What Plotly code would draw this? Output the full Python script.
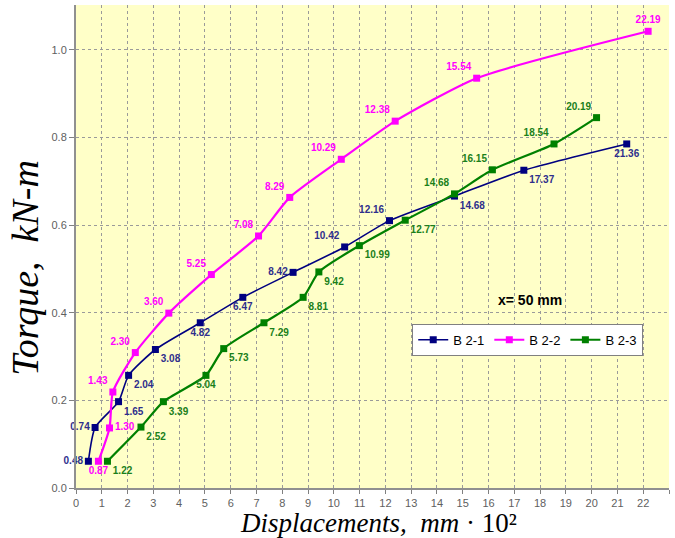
import plotly.graph_objects as go

# Data (displacement in mm*10^2, torque in kN·m)
b21_x = [0.48, 0.74, 1.65, 2.04, 3.08, 4.82, 6.47, 8.42, 10.42, 12.16, 14.68, 17.37, 21.36]
b21_y = [0.061, 0.138, 0.197, 0.257, 0.316, 0.377, 0.435, 0.492, 0.550, 0.610, 0.666, 0.725, 0.785]
b21_pos = ["middle left", "middle left", "bottom right", "bottom right", "bottom right",
           "bottom center", "bottom center", "middle left", "top left", "top left",
           "bottom right", "bottom right", "bottom center"]

b22_x = [0.87, 1.30, 1.43, 2.30, 3.60, 5.25, 7.08, 8.29, 10.29, 12.38, 15.54, 22.19]
b22_y = [0.061, 0.137, 0.219, 0.309, 0.399, 0.487, 0.575, 0.663, 0.750, 0.837, 0.935, 1.042]
b22_pos = ["bottom center", "middle right", "top left", "top left", "top left", "top left",
           "top left", "top left", "top left", "top left", "top left", "top center"]

b23_x = [1.22, 2.52, 3.39, 5.04, 5.73, 7.29, 8.81, 9.42, 10.99, 12.77, 14.68, 16.15, 18.54, 20.19]
b23_y = [0.061, 0.139, 0.197, 0.257, 0.318, 0.377, 0.435, 0.493, 0.553, 0.611, 0.671, 0.726, 0.785, 0.845]
b23_pos = ["bottom right", "bottom right", "bottom right", "bottom center", "bottom right",
           "bottom right", "bottom right", "bottom right", "bottom right", "bottom right",
           "top left", "top left", "top left", "top left"]

x_ticks = list(range(0, 24))
y_ticks = [0.0, 0.2, 0.4, 0.6, 0.8, 1.0]

series = [
    ("B 2-1", b21_x, b21_y, b21_pos, "#000080", "#2E2E8C", 1.6),
    ("B 2-2", b22_x, b22_y, b22_pos, "#FF00FF", "#FF00FF", 2.2),
    ("B 2-3", b23_x, b23_y, b23_pos, "#008000", "#1A801A", 2.2),
]

fig = go.Figure()
for name, xs, ys, pos, col, tcol, lw in series:
    fig.add_trace(go.Scatter(
        x=xs, y=ys, name=name,
        mode="lines+markers+text",
        text=[f"{v:.2f}" for v in xs],
        textposition=pos,
        textfont=dict(family="Liberation Sans", size=10, color=tcol, weight="bold"),
        line=dict(color=col, width=lw, shape="spline", smoothing=0.6),
        marker=dict(symbol="square", size=7, color=col),
        cliponaxis=False,
    ))

fig.update_layout(
    width=675, height=538,
    margin=dict(l=76, r=6, t=5, b=50),
    paper_bgcolor="white",
    plot_bgcolor="#FFFFC8",
    showlegend=True,
    legend=dict(
        orientation="h", x=0.567, y=0.34, xanchor="left", yanchor="top",
        bgcolor="white", bordercolor="#808080", borderwidth=1,
        font=dict(family="Liberation Sans", size=13, color="black"),
        itemwidth=30, tracegroupgap=0,
    ),
    annotations=[
        dict(x=17.6, y=0.43, xref="x", yref="y", text="<b>x= 50 mm</b>",
             showarrow=False, font=dict(family="Liberation Sans", size=14, color="black")),
        dict(x=0.51, y=-0.0725, xref="paper", yref="paper", xanchor="center", yanchor="middle",
             text="<i>Displacements,  mm</i> · 10²", showarrow=False,
             font=dict(family="Liberation Serif", size=27, color="black")),
        dict(x=-0.085, y=0.455, xref="paper", yref="paper", xanchor="center", yanchor="middle",
             text="<i>Torque,  kN-m</i>", textangle=-90, showarrow=False,
             font=dict(family="Liberation Serif", size=38, color="black")),
    ],
)

fig.update_xaxes(
    range=[0, 23], tickvals=x_ticks, ticktext=[str(v) for v in x_ticks],
    showgrid=True, gridcolor="#9A9A9A", griddash="dot", gridwidth=1,
    showline=True, linecolor="#909090", linewidth=2,
    ticks="outside", ticklen=4, tickcolor="#808080",
    tickfont=dict(family="Liberation Sans", size=11, color="#606060"),
    zeroline=False,
)
fig.update_yaxes(
    range=[0, 1.102], tickvals=y_ticks, ticktext=[f"{v:.1f}" for v in y_ticks],
    showgrid=True, gridcolor="#9A9A9A", griddash="dot", gridwidth=1,
    showline=True, linecolor="#909090", linewidth=2,
    ticks="outside", ticklen=5, tickcolor="#808080",
    tickfont=dict(family="Liberation Sans", size=11, color="#606060"),
    zeroline=False,
)

fig.write_html("out.html")
